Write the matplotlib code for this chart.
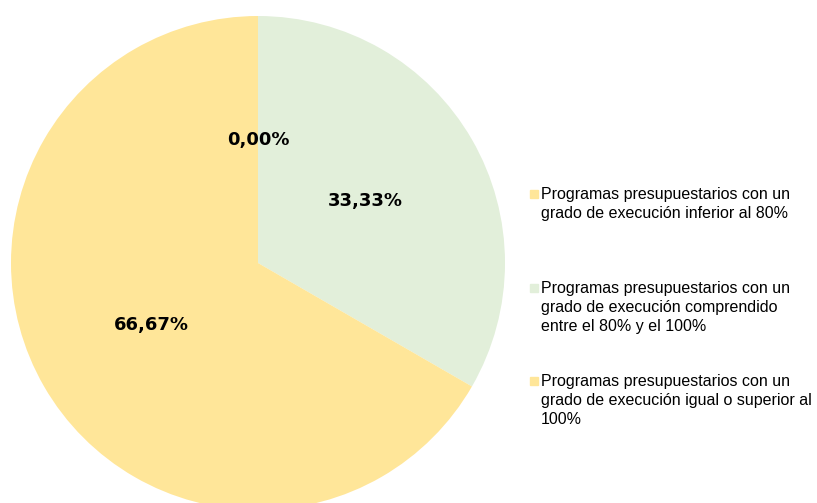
import matplotlib
matplotlib.use("Agg")
import matplotlib.pyplot as plt

# data
categories = [
    "Programas presupuestarios con un\ngrado de execución inferior al 80%",
    "Programas presupuestarios con un\ngrado de execución comprendido\nentre el 80% y el 100%",
    "Programas presupuestarios con un\ngrado de execución igual o superior al\n100%",
]
shares = [0.0, 33.33, 66.67]
colors = ["#FFE699", "#E2EFDA", "#FFE699"]


def pct_label(p):
    return f"{p:.2f}%".replace(".", ",")


W, H = 817, 503
fig = plt.figure(figsize=(W / 100, H / 100), dpi=100)

# pie centre (258, 263) px from top, radius ~247 px
cx, cy, r = 258, 263, 247
ax = fig.add_axes([(cx - r) / W, (H - cy - r) / H, 2 * r / W, 2 * r / H])
wedges, texts, autotexts = ax.pie(
    shares,
    colors=colors,
    startangle=90,
    counterclock=False,
    autopct=pct_label,
    pctdistance=0.5,
    radius=1.0,
    wedgeprops=dict(linewidth=0),
    textprops=dict(fontsize=13, fontweight="bold", family="DejaVu Sans", color="black"),
)
for w in wedges:
    w.set_clip_on(False)
ax.set_xlim(-1, 1)
ax.set_ylim(-1, 1)
ax.set_aspect("equal")
ax.axis("off")

# legend drawn by hand so the entries are spread like the original
entry_y = [194, 288, 381]
for lab, col, y in zip(categories, colors, entry_y):
    fig.patches.append(plt.Rectangle((530 / W, (H - y - 4) / H), 8 / W, 8 / H,
                                     transform=fig.transFigure, color=col, figure=fig))
    fig.text(541 / W, (H - y + 7) / H, lab, fontsize=11.5, family="Liberation Sans",
             va="top", ha="left", linespacing=1.32,
             transform=fig.transFigure)

fig.savefig("out.png", dpi=100)
